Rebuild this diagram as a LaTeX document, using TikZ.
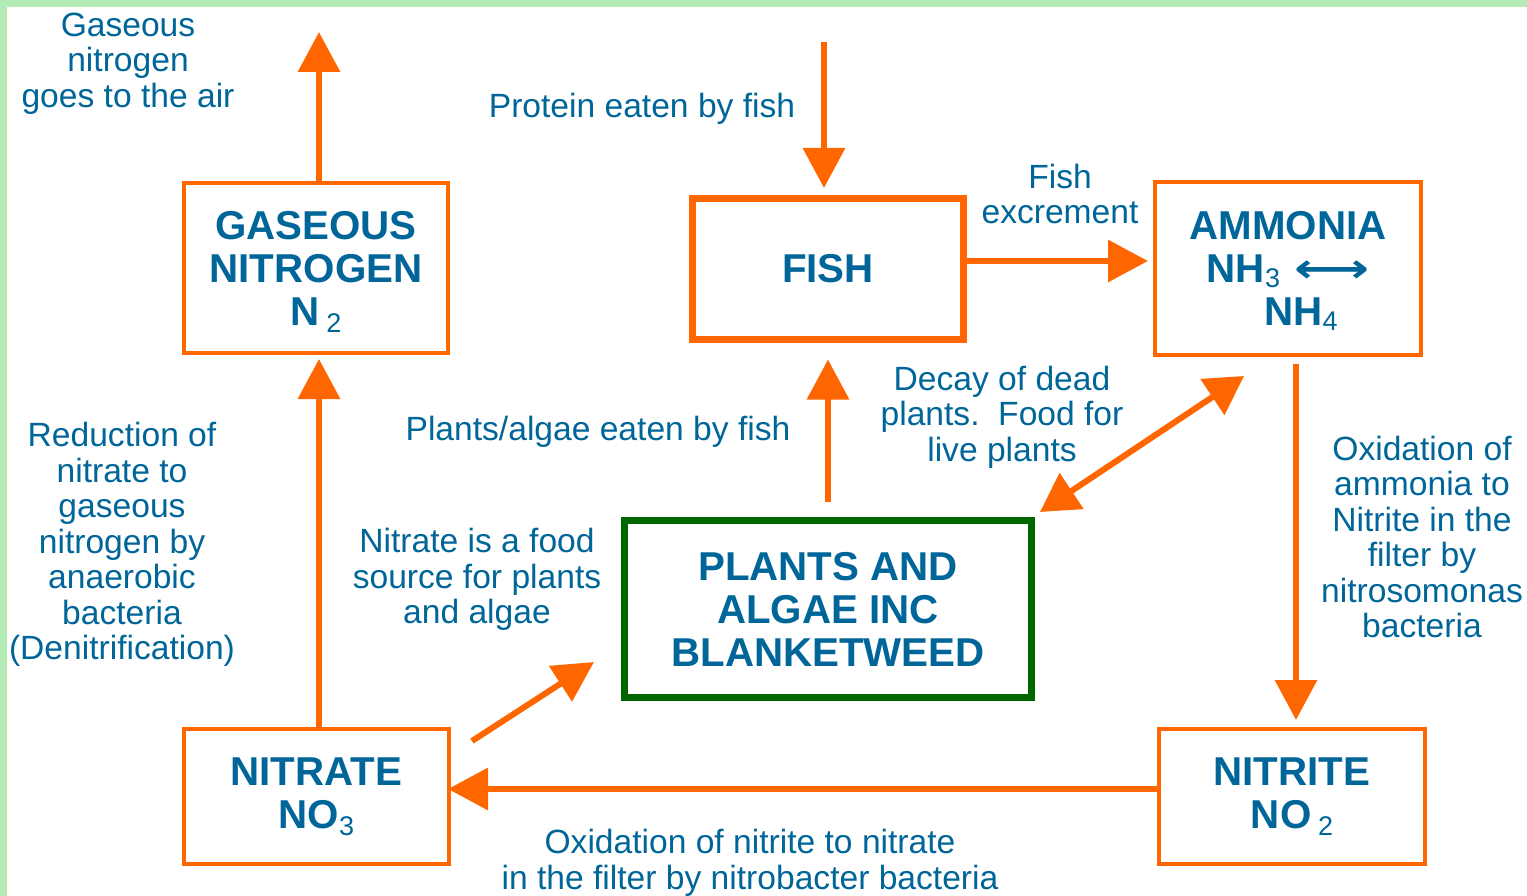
\documentclass[tikz,border=0pt]{standalone}
\usepackage{fontspec}
\setmainfont{Liberation Sans}
\newfontfamily\symfam{DejaVu Sans}
\usetikzlibrary{arrows.meta}
\definecolor{txtblue}{HTML}{006699}
\definecolor{orng}{HTML}{FF6600}
\definecolor{boxgreen}{HTML}{006600}
\definecolor{edgegreen}{HTML}{B5EBB4}
\newcommand{\lbl}{\fontsize{33.6}{35.5}\selectfont}
\newcommand{\bx}{\fontsize{40.3}{43}\selectfont\bfseries}
\newcommand{\subd}[2][-7pt]{{\fontsize{27}{27}\selectfont\mdseries\raisebox{#1}{#2}}}
\newcommand{\subs}[2][-7pt]{\smash{\subd[#1]{#2}}}
\begin{document}
\begin{tikzpicture}[x=1pt,y=-1pt,
  obox/.style={draw=orng, line width=4pt, text=txtblue, align=center, inner sep=0pt, font=\bx},
  label/.style={text=txtblue, align=center, inner sep=0pt, font=\lbl, yshift=-4pt},
  arr/.style={draw=orng, line width=6.5pt, -{Triangle[width=41pt,length=40pt]}},
  darr/.style={draw=orng, line width=6pt, {Triangle[width=42pt,length=38pt]}-{Triangle[width=42pt,length=38pt]}}]
\useasboundingbox (0,0) rectangle (1527,896);
\fill[white] (0,0) rectangle (1527,896);
\fill[edgegreen] (0,0) rectangle (1527,7);
\fill[edgegreen] (0,0) rectangle (7,896);

% boxes
\node[obox, minimum width=264pt, minimum height=170pt] (gas) at (316,268) {GASEOUS\\NITROGEN\\N\,\subs{2}};
\node[obox, line width=7pt, minimum width=271pt, minimum height=141pt] (fish) at (828,269) {FISH};
\node[obox, minimum width=266pt, minimum height=173pt] (amm) at (1288,268.5) {AMMONIA\\NH\subs[-5pt]{3}\hspace{14pt}{\symfam\bfseries\scalebox{1.3}[1]{⟷}}\\\hspace*{26pt}NH\subs[-5pt]{4}};
\node[obox, minimum width=266pt, minimum height=135pt] (nitrite) at (1292,796.5) {NITRITE\\NO\,\subd{2}};
\node[obox, minimum width=265pt, minimum height=135pt] (nitrate) at (316.5,796.5) {NITRATE\\NO\subd{3}};
\node[obox, draw=boxgreen, line width=7pt, minimum width=407pt, minimum height=177pt] (plants) at (828,609) {PLANTS AND\\ALGAE INC\\BLANKETWEED};

% free ends
\coordinate (air) at (319,32);
\coordinate (prot) at (824,42);
\coordinate (d1) at (472,741);
\coordinate (d2) at (594,662);
\coordinate (e1) at (1040,512);
\coordinate (e2) at (1244,376);

% connectors
\draw[arr] (gas.north -| air) -- (air);
\draw[arr, shorten >=7pt] (prot) -- (prot |- fish.north);
\draw[arr, shorten >=5pt] ([yshift=8pt]fish.east) -- ([yshift=8pt]fish.east -| amm.west);
\draw[arr, shorten <=7pt, shorten >=7pt] ([xshift=8pt]amm.south) -- ([xshift=8pt]amm.south |- nitrite.north);
\draw[arr, shorten >=-3pt] ([yshift=7.5pt]nitrite.west) -- ([yshift=7.5pt]nitrite.west -| nitrate.east);
\draw[arr, shorten >=4pt] (nitrate.north -| air) -- (gas.south -| air);
\draw[arr, shorten <=15.5pt, shorten >=16.5pt] (plants.north) -- (fish.south);
\draw[arr, line width=6pt] (d1) -- (d2);
\draw[darr] (e1) -- (e2);

% labels
\node[label] (l1) at (128,59.5) {Gaseous\\nitrogen\\goes to the air};
\node[label] (l2) at (642,105) {Protein eaten by fish};
\node[label] (l3) at (1060,190) {Fish\\excrement};
\node[label] (l4) at (1002,413) {Decay of dead\\plants.\ \ Food for\\live plants};
\node[label] (l5) at (598,428) {Plants/algae eaten by fish};
\node[label] (l6) at (122,540.5) {Reduction of\\nitrate to\\gaseous\\nitrogen by\\anaerobic\\bacteria\\(Denitrification)};
\node[label] (l7) at (477,575.5) {Nitrate is a food\\source for plants\\and algae};
\node[label] (l8) at (1422,533) {Oxidation of\\ammonia to\\Nitrite in the\\filter by\\nitrosomonas\\bacteria};
\node[label] (l9) at (750,859) {Oxidation of nitrite to nitrate\\in the filter by nitrobacter bacteria};
\end{tikzpicture}
\end{document}
